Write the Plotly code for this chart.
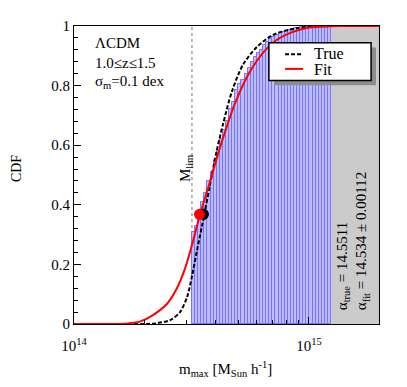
import numpy as np
import plotly.graph_objects as go

# --- data (x in log10 of m_max [M_sun/h]) ---
fit_logm = [14.0, 14.17, 14.23, 14.28, 14.336, 14.396, 14.438, 14.472, 14.502, 14.536, 14.574,
            14.609, 14.643, 14.685, 14.740, 14.78, 14.821, 14.86, 14.906, 14.95, 14.991, 15.06,
            15.132, 15.298]
fit_cdf = [0, 0, 0.002, 0.008, 0.03, 0.068, 0.12, 0.185, 0.265, 0.366, 0.465,
           0.56, 0.645, 0.74, 0.835, 0.885, 0.925, 0.952, 0.972, 0.985, 0.993, 0.998,
           1.0, 1.0]

true_logm = [14.0, 14.30, 14.345, 14.409, 14.451, 14.481, 14.502, 14.523, 14.545, 14.577,
             14.607, 14.634, 14.672, 14.719, 14.779, 14.847, 14.949, 15.089, 15.298]
true_cdf = [0, 0, 0.002, 0.013, 0.04, 0.09, 0.16, 0.245, 0.33, 0.46,
            0.58, 0.67, 0.78, 0.87, 0.93, 0.97, 0.993, 1.0, 1.0]

# empirical CDF of the sample above M_lim (45 equal bins in log m)
hist_lo, hist_hi = 14.502, 15.094
hist_cdf = [0.31, 0.33, 0.37, 0.41, 0.44, 0.48, 0.51, 0.55, 0.58, 0.62,
            0.65, 0.68, 0.72, 0.745, 0.785, 0.805, 0.82, 0.84, 0.86, 0.88,
            0.895, 0.91, 0.92, 0.935, 0.945, 0.955, 0.962, 0.97, 0.975, 0.98,
            0.984, 0.988, 0.99, 0.992, 0.994, 0.996, 0.997, 0.998, 0.998, 0.999,
            1.0, 1.0, 1.0, 1.0, 1.0]

m_lim = 14.502
alpha_true = 14.5511
alpha_fit = 14.534
cdf_at_alpha = 0.368

xmin, xmax = 14.0, 15.298

edges = np.linspace(hist_lo, hist_hi, len(hist_cdf) + 1)
centers = (edges[:-1] + edges[1:]) / 2
bin_w = edges[1] - edges[0]

FONT = "Liberation Serif"

fig = go.Figure()

fig.add_trace(go.Bar(
    x=centers, y=hist_cdf, width=bin_w,
    marker=dict(color='#bcbcff', line=dict(color='#7474ff', width=1)),
    showlegend=False, hoverinfo='skip'
))

fig.add_trace(go.Scatter(
    x=true_logm, y=true_cdf, mode='lines', name='True', showlegend=False,
    line=dict(color='black', width=2, dash='4px,2px', shape='spline', smoothing=0.8)
))
fig.add_trace(go.Scatter(
    x=fit_logm, y=fit_cdf, mode='lines', name='Fit', showlegend=False,
    line=dict(color='red', width=2, shape='spline', smoothing=0.8)
))

fig.add_trace(go.Scatter(
    x=[alpha_true], y=[cdf_at_alpha], mode='markers', showlegend=False,
    marker=dict(color='black', size=11)
))
fig.add_trace(go.Scatter(
    x=[alpha_fit], y=[cdf_at_alpha], mode='markers', showlegend=False,
    marker=dict(color='red', size=11)
))

# grey excluded region and M_lim marker
fig.add_shape(type='rect', xref='x', yref='y', x0=hist_hi, x1=xmax, y0=0, y1=1,
              fillcolor='#cbcbcb', line_width=0, layer='below')
fig.add_shape(type='line', xref='x', yref='y', x0=m_lim, x1=m_lim, y0=0, y1=1,
              line=dict(color='#777777', width=1, dash='dot'), layer='below')

# legend box drawn by hand (shadow, frame, line samples)
fig.add_shape(type='rect', xref='paper', yref='paper', x0=0.656, x1=0.990, y0=0.801, y1=0.928,
              fillcolor='#8c8c8c', line_width=0, layer='above')
fig.add_shape(type='rect', xref='paper', yref='paper', x0=0.639, x1=0.974, y0=0.817, y1=0.944,
              fillcolor='white', line=dict(color='black', width=1.5), layer='above')
fig.add_shape(type='line', xref='paper', yref='paper', x0=0.692, x1=0.751, y0=0.905, y1=0.905,
              line=dict(color='black', width=2, dash='4px,2px'), layer='above')
fig.add_shape(type='line', xref='paper', yref='paper', x0=0.692, x1=0.751, y0=0.856, y1=0.856,
              line=dict(color='red', width=2), layer='above')
leg_font = dict(family=FONT, size=16, color='black')
fig.add_annotation(x=0.784, y=0.907, xref='paper', yref='paper', xanchor='left', yanchor='middle',
                   text='True', showarrow=False, font=leg_font, borderpad=0)
fig.add_annotation(x=0.784, y=0.854, xref='paper', yref='paper', xanchor='left', yanchor='middle',
                   text='Fit', showarrow=False, font=leg_font, borderpad=0)

ann_font = dict(family=FONT, size=15, color='black')
fig.add_annotation(x=0.062, y=0.944, xref='paper', yref='paper', xanchor='left', yanchor='middle',
                   text='ΛCDM', showarrow=False, font=ann_font)
fig.add_annotation(x=0.062, y=0.876, xref='paper', yref='paper', xanchor='left', yanchor='middle',
                   text='1.0≤z≤1.5', showarrow=False, font=ann_font)
fig.add_annotation(x=0.062, y=0.812, xref='paper', yref='paper', xanchor='left', yanchor='middle',
                   text='σ<sub>m</sub>=0.1 dex', showarrow=False, font=ann_font)
fig.add_annotation(x=0.367, y=0.523, xref='paper', yref='paper', xanchor='center', yanchor='middle',
                   text='M<sub>lim</sub>', textangle=-90, showarrow=False, font=ann_font)
fig.add_annotation(x=0.915, y=0.04, xref='paper', yref='paper', xanchor='center', yanchor='bottom',
                   text='α<sub>true</sub> = 14.5511<br>α<sub>fit</sub> = 14.534 ± 0.00112',
                   textangle=-90, align='left', showarrow=False, font=ann_font)
# axis titles
fig.add_annotation(x=-0.19, y=0.52, xref='paper', yref='paper', xanchor='center', yanchor='middle',
                   text='CDF', textangle=-90, showarrow=False, borderpad=0,
                   font=dict(family=FONT, size=14, color='black'))
fig.add_annotation(x=0.498, y=-0.15, xref='paper', yref='paper', xanchor='center', yanchor='middle',
                   text='m<sub>max</sub> [M<sub>Sun</sub> h<sup>-1</sup>]', showarrow=False, font=ann_font)

minor_x = [14 + np.log10(k) for k in range(2, 10)]

fig.update_xaxes(
    range=[xmin, xmax], tickvals=[14, 15], ticktext=['10<sup>14</sup>', '10<sup>15</sup>'],
    ticks='inside', ticklen=7, tickcolor='black', showline=True, linecolor='black', linewidth=1,
    mirror=True, showgrid=False, zeroline=False, ticklabelstandoff=8,
    minor=dict(tickvals=minor_x, ticks='inside', ticklen=4, tickcolor='black', showgrid=False),
    tickfont=dict(family=FONT, size=15, color='black')
)
fig.update_yaxes(
    range=[0, 1], dtick=0.2, ticks='inside', ticklen=7, tickcolor='black',
    showline=True, linecolor='black', linewidth=1, mirror=True, showgrid=False, zeroline=False,
    minor=dict(dtick=0.04, ticks='inside', ticklen=4, tickcolor='black', showgrid=False),
    tickfont=dict(family=FONT, size=15, color='black')
)

# page body adds an 8px offset, so the figure is shrunk by that much
fig.update_layout(
    width=399, height=379, margin=dict(l=66, r=28, t=10, b=63),
    plot_bgcolor='white', paper_bgcolor='white', bargap=0, showlegend=False,
    font=dict(family=FONT, size=15, color='black')
)

fig.write_html("out.html")
